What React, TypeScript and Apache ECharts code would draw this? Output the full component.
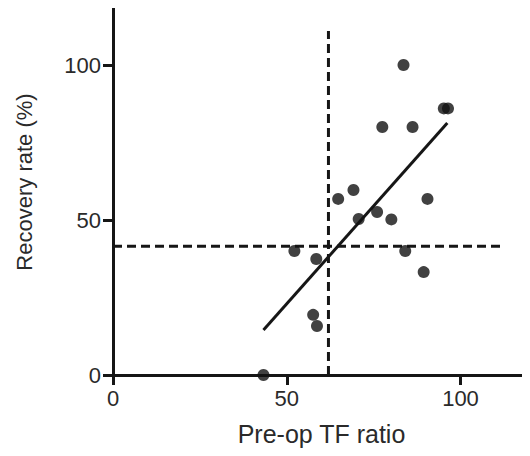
import React, { useEffect, useRef } from "react";
import * as echarts from "echarts";

const points: [number, number][] = [
  [43.3, 0],
  [52.2, 40],
  [57.6, 19.4],
  [58.7, 15.8],
  [58.5, 37.4],
  [64.8, 56.8],
  [69.2, 59.7],
  [70.7, 50.3],
  [76.0, 52.6],
  [77.5, 80],
  [80.1, 50.2],
  [83.6, 100],
  [84.1, 40],
  [86.2, 80],
  [89.4, 33.2],
  [90.5, 56.8],
  [95.2, 86],
  [96.4, 86],
];

const fitLine: [number, number][] = [
  [43.3, 14.5],
  [96.2, 81.3],
];

const thresholdX = 62;
const thresholdY = 41.5;
const thresholdXLine: [number, number][] = [
  [thresholdX, 0],
  [thresholdX, 111],
];
const thresholdYLine: [number, number][] = [
  [0, thresholdY],
  [112, thresholdY],
];

const tickValues = [0, 50, 100];
const xTitle = "Pre-op TF ratio";
const yTitle = "Recovery rate (%)";

const INK = "#161616";
const TEXT = "#2a2a2a";
const FONT = "Liberation Sans, Arial, sans-serif";

export default function App() {
  const ref = useRef<HTMLDivElement>(null);
  useEffect(() => {
    if (!ref.current) return;
    const chart = echarts.init(ref.current, undefined, { renderer: "svg" });
    const axisCommon = {
      type: "value" as const,
      min: 0,
      max: 120,
      interval: 50,
      splitLine: { show: false },
      axisLine: { show: true, lineStyle: { color: INK, width: 3 } },
      axisTick: {
        show: true,
        length: 10,
        inside: false,
        customValues: tickValues,
        lineStyle: { color: INK, width: 3 },
      },
      axisLabel: {
        customValues: tickValues,
        color: TEXT,
        fontSize: 22,
        fontFamily: FONT,
        margin: 12,
      },
      nameLocation: "middle" as const,
    };
    chart.setOption({
      animation: false,
      backgroundColor: "#fff",
      grid: { left: 113, right: 0, top: 3, bottom: 81, containLabel: false },
      xAxis: {
        ...axisCommon,
        name: xTitle,
        nameGap: 46,
        nameTextStyle: { color: TEXT, fontSize: 25, fontFamily: FONT },
      },
      yAxis: {
        ...axisCommon,
        name: yTitle,
        nameGap: 78,
        nameRotate: 90,
        nameTextStyle: {
          color: TEXT,
          fontSize: 22,
          fontFamily: FONT,
          padding: [0, 0, 0, 14],
        },
      },
      series: [
        {
          type: "line",
          data: thresholdYLine,
          symbol: "none",
          lineStyle: { color: INK, width: 3, type: [9, 5] },
          z: 2,
        },
        {
          type: "line",
          data: thresholdXLine,
          symbol: "none",
          lineStyle: { color: INK, width: 3, type: [9, 5] },
          z: 2,
        },
        {
          type: "line",
          data: fitLine,
          symbol: "none",
          lineStyle: { color: INK, width: 3 },
          z: 3,
        },
        {
          type: "scatter",
          data: points,
          symbol: "circle",
          symbolSize: 12,
          itemStyle: { color: "#111" },
          z: 4,
        },
      ],
    });
    return () => chart.dispose();
  }, []);
  return <div ref={ref} style={{ width: 530, height: 456, margin: -8 }} />;
}
